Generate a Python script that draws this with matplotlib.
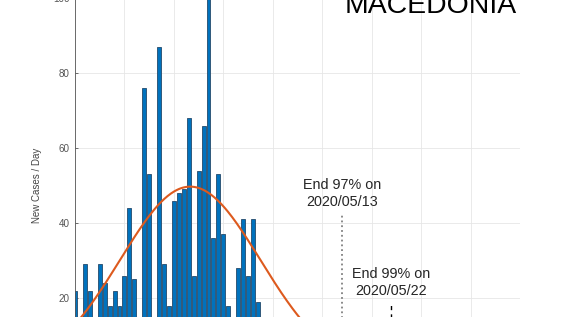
# macedonia new cases per day, with fitted curve and end estimates
import numpy as np
import matplotlib.pyplot as plt

plt.rcParams['font.family'] = ['Liberation Sans', 'DejaVu Sans']

# daily new cases (day 0 = 2020/03/20)
new_cases = [22, 15, 29, 22, 12, 29, 24, 18, 22, 18,
             26, 44, 25, 11, 76, 53, 10, 87, 29, 18,
             46, 48, 49, 68, 26, 54, 66, 100, 36, 53,
             37, 18, 12, 28, 41, 26, 41, 19, 11, 9,
             12, 7, 8, 6, 5, 4]
days = np.arange(len(new_cases))

# gaussian fit parameters
fit_amp = 49.7
fit_mu = 23.3
fit_sigma = 14.2

# end estimates
end_days = [54, 64]
end_labels = ['End 97% on\n2020/05/13', 'End 99% on\n2020/05/22']
end_text_y = [47.9, 24.1]
end_line_top = [42.2, 18.4]

y_ticks = [20, 40, 60, 80, 100]
x_ticks = np.arange(0, 91, 10)

fig = plt.figure(figsize=(5.7, 3.17), dpi=100)
ax = fig.add_axes([75/570, -0.1767, 445/570, 1.183])

# bars
ax.bar(days, new_cases, width=0.8, color='#0072BD', edgecolor='#24496b',
       linewidth=0.6, zorder=2)

# fitted curve
xf = np.linspace(0, 90, 400)
yf = fit_amp*np.exp(-(xf - fit_mu)**2/(2*fit_sigma**2))
ax.plot(xf, yf, color='#DD5A1E', linewidth=1.5, zorder=3)

# end lines and labels
ax.plot([end_days[0], end_days[0]], [0, end_line_top[0]], color='#808080',
        linestyle=':', linewidth=1.3, zorder=3)
ax.plot([end_days[1], end_days[1]], [0, end_line_top[1]], color='black',
        linestyle=(0, (3, 3)), linewidth=1.0, zorder=3)
for d, lab, ty in zip(end_days, end_labels, end_text_y):
    ax.text(d, ty, lab, ha='center', va='center', fontsize=10.4,
            color='#262626', linespacing=1.3)

ax.set_xlim(0, 90)
ax.set_ylim(0, 100)
ax.set_xticks(x_ticks)
ax.set_xticklabels([])
ax.set_yticks(y_ticks)
ax.grid(True, color='#e6e6e6', linewidth=0.6, zorder=0)
ax.set_axisbelow(True)
ax.tick_params(axis='both', direction='in', length=2.5, width=0.6,
               labelsize=7.1, labelcolor='#555555', color='#555555', pad=4)
ax.set_ylabel('New Cases / Day', fontsize=7, color='#444444', labelpad=8)

for side in ['top', 'right', 'bottom']:
    ax.spines[side].set_visible(False)
ax.spines['left'].set_color('#555555')
ax.spines['left'].set_linewidth(0.6)

# country title
fig.text(431/570, (317 - 13)/317, 'MACEDONIA', ha='center', va='baseline',
         fontsize=20.4, color='black')

fig.savefig('out.png', dpi=100)
